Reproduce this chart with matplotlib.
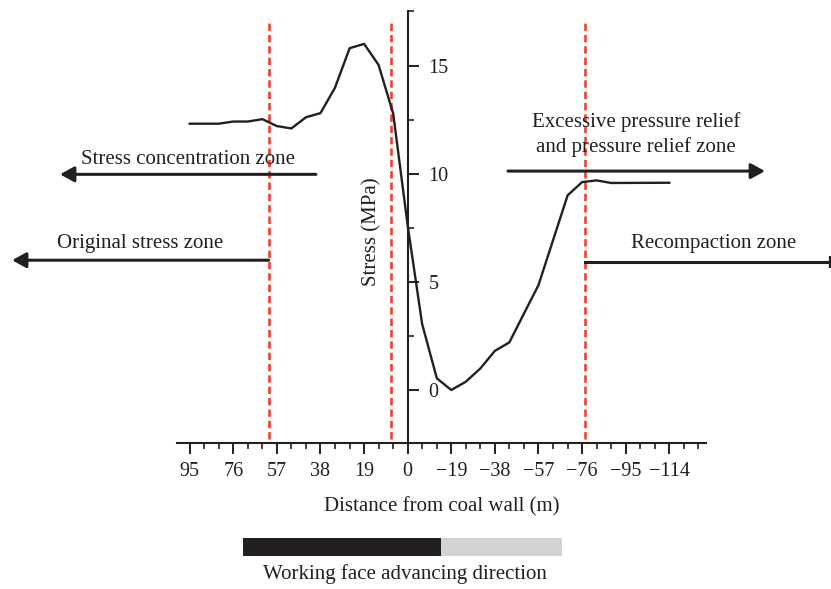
"""Abutment stress profile ahead of / behind the working face."""

import matplotlib

matplotlib.use("Agg")
import matplotlib.pyplot as plt
from matplotlib.patches import Rectangle
from matplotlib.ticker import MultipleLocator

# --------------------------------------------------------------------- DATA

distance = [95, 82.3, 76, 69.7, 63.3, 57, 50.7, 44.3, 38, 31.7, 25.3, 19, 12.7, 6.3,
            0, -6.3, -12.7, -19, -25.3, -31.7, -38, -44.3, -50.7, -57, -69.7, -76,
            -82.3, -88.7, -114]
stress = [12.31, 12.31, 12.41, 12.41, 12.52, 12.2, 12.09, 12.61, 12.8, 13.97, 15.8, 16.0,
          15.03, 12.77, 7.6, 3.05, 0.54, 0.0, 0.38, 1.0, 1.81, 2.2, 3.54, 4.85, 9.0, 9.61,
          9.69, 9.57, 9.58]

tick_values = [95, 76, 57, 38, 19, 0, -19, -38, -57, -76, -95, -114]
tick_labels = ["95", "76", "57", "38", "19", "0", "\u221219", "\u221238", "\u221257",
               "\u221276", "\u221295", "\u2212114"]
stress_ticks = [0, 5, 10, 15]

zone_bounds = [60.6, 7.4, -77.3]

INK = "#231f20"
RED = "#ef4130"
GREY = "#d1d2d4"

plt.rcParams["font.family"] = ["Liberation Serif", "DejaVu Serif"]
plt.rcParams["font.size"] = 15

# --------------------------------------------------------------------- FIGURE

fig = plt.figure(figsize=(8.31, 5.89), dpi=100)
ax = fig.add_axes([177.3 / 831, 146 / 589, 528.7 / 831, 432 / 589])
ax.set_xlim(100.4, -130.0)
ax.set_ylim(-2.45, 17.52)

for side in ("left", "top"):
    ax.spines[side].set_visible(False)
ax.spines["right"].set_position(("data", 0))
for side in ("right", "bottom"):
    ax.spines[side].set_linewidth(1.5)
    ax.spines[side].set_color(INK)

ax.yaxis.set_ticks_position("right")
ax.set_yticks(stress_ticks)
ax.yaxis.set_minor_locator(MultipleLocator(2.5))
ax.set_xticks(tick_values, tick_labels)
ax.xaxis.set_minor_locator(MultipleLocator(19 / 3))
ax.tick_params(which="major", length=8, width=1.4, color=INK, labelcolor=INK,
               labelsize=14.5)
ax.tick_params(which="minor", length=4.5, width=1.2, color=INK)
ax.tick_params(axis="x", which="major", pad=6)
ax.tick_params(axis="y", which="major", pad=7)

# zone boundaries
for xb in zone_bounds:
    ax.plot([xb, xb], [-2.26, 17.17], color=RED, lw=1.9, dashes=(2.8, 1.5), clip_on=False)

ax.plot(distance, stress, color=INK, lw=1.7, clip_on=False)

ax.text(15.8, 7.34, "Stress (MPa)", rotation=90, ha="center", va="center", color=INK)


def zone_arrow(x0, x1, y):
    ax.annotate("", xy=(x1, y), xytext=(x0, y), annotation_clip=False,
                arrowprops=dict(arrowstyle="-|>,head_length=0.6,head_width=0.33",
                                mutation_scale=14, lw=2.2, color=INK,
                                shrinkA=0, shrinkB=0))


zone_arrow(40.0, 151.5, 9.97)
ax.text(95.7, 10.46, "Stress concentration zone", ha="center", va="baseline", color=INK)
zone_arrow(60.6, 172.4, 6.0)
ax.text(116.6, 6.57, "Original stress zone", ha="center", va="baseline", color=INK)
zone_arrow(-43.7, -155.7, 10.12)
ax.text(-99.5, 12.18, "Excessive pressure relief", ha="center", va="baseline", color=INK)
ax.text(-99.5, 11.0, "and pressure relief zone", ha="center", va="baseline", color=INK)
ax.plot([-77.3, -184.0], [5.92, 5.92], color=INK, lw=2.2, clip_on=False)
ax.plot([-184.0], [5.92], marker="|", ms=9, mew=1.6, color=INK, clip_on=False)
ax.text(-133.3, 6.58, "Recompaction zone", ha="center", va="baseline", color=INK)

fig.text(441.5 / 831, (589 - 511) / 589, "Distance from coal wall (m)",
         ha="center", va="baseline", color=INK)

# advancing-direction bar
fig.add_artist(Rectangle((243.3 / 831, 33.3 / 589), (440.7 - 243.3) / 831, 18 / 589,
                         transform=fig.transFigure, color=INK, lw=0))
fig.add_artist(Rectangle((440.7 / 831, 33.3 / 589), (562.3 - 440.7) / 831, 18 / 589,
                         transform=fig.transFigure, color=GREY, lw=0))
fig.text(405 / 831, (589 - 579) / 589, "Working face advancing direction",
         ha="center", va="baseline", color=INK)

fig.savefig("out.png", dpi=100)
